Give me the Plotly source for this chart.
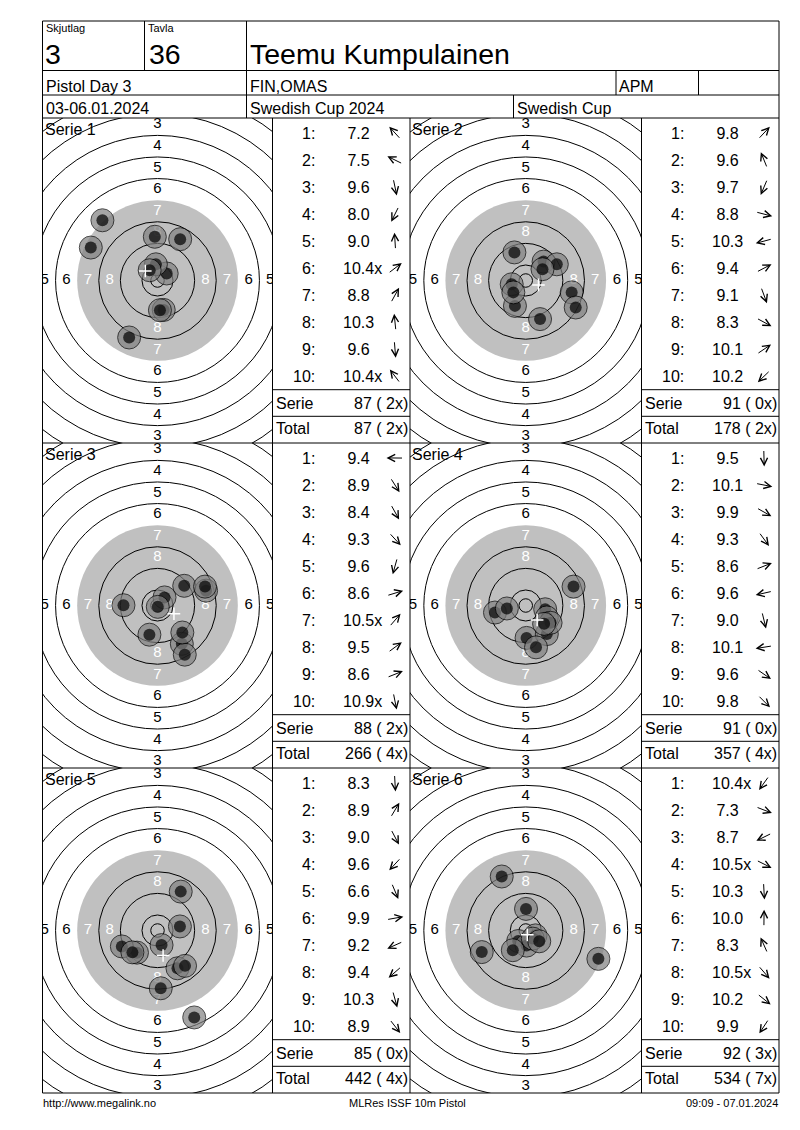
import math
import plotly.graph_objects as go

# ---------------- data ----------------
relay_label, relay_value = "Skjutlag", "3"
lane_label, lane_value = "Tavla", "36"
shooter_name = "Teemu Kumpulainen"
event_name = "Pistol Day 3"
club_name = "FIN,OMAS"
class_name = "APM"
event_dates = "03-06.01.2024"
competition_name = "Swedish Cup 2024"
cup_name = "Swedish Cup"
footer_left = "http://www.megalink.no"
footer_mid = "MLRes ISSF 10m Pistol"
footer_right = "09:09 - 07.01.2024"

series_labels = ["Serie 1", "Serie 2", "Serie 3", "Serie 4", "Serie 5", "Serie 6"]

scores_s1 = ["7.2", "7.5", "9.6", "8.0", "9.0", "10.4x", "8.8", "10.3", "9.6", "10.4x"]
shot_x_s1 = [-20.4, -24.7, 2.3, -10.5, -1.0, 3.4, 8.4, -0.6, 0.9, -2.9]
shot_y_s1 = [22.3, 12.2, -10.9, -21.1, 16.2, 2.6, 15.3, 6.0, -11.0, 3.8]

scores_s2 = ["9.8", "9.6", "9.7", "8.8", "10.3", "9.4", "9.1", "8.3", "10.1", "10.2"]
shot_x_s2 = [6.6, -4.2, -4.0, 17.0, -5.2, 11.5, 5.3, 18.5, 6.2, -4.6]
shot_y_s2 = [7.0, 10.4, -9.4, -4.4, -1.4, 6.0, -14.3, -10.0, 4.2, -4.4]

scores_s3 = ["9.4", "8.9", "8.4", "9.3", "9.6", "8.6", "10.5x", "9.5", "8.6", "10.9x"]
shot_x_s3 = [-12.6, 9.0, 10.1, 9.2, -3.0, 18.0, 2.6, 9.9, 17.6, 0.1]
shot_y_s3 = [0.1, -14.2, -18.2, -10.0, -10.8, 5.5, 3.0, 7.3, 7.0, -0.5]

scores_s4 = ["9.5", "10.1", "9.9", "9.3", "8.6", "9.6", "9.0", "10.1", "9.6", "9.8"]
shot_x_s4 = [0.3, 7.2, 7.8, 7.8, 17.7, -11.4, 3.8, -7.0, 9.2, 6.8]
shot_y_s4 = [-12.0, -1.4, -4.4, -10.6, 7.0, -2.6, -15.5, -1.1, -6.4, -6.8]

scores_s5 = ["8.3", "8.9", "9.0", "9.6", "6.6", "9.9", "9.2", "9.4", "10.3", "8.9"]
shot_x_s5 = [1.2, 8.6, 7.4, -7.6, 13.6, 8.3, -13.2, -9.3, 1.5, 10.2]
shot_y_s5 = [-21.4, 14.4, -14.0, -8.2, -32.2, 1.5, -5.9, -8.1, -5.4, -13.1]

scores_s6 = ["10.4x", "7.3", "8.7", "10.5x", "10.3", "10.0", "8.3", "10.5x", "10.2", "9.9"]
shot_x_s6 = [-2.8, 26.9, -16.3, 3.6, 0.3, 0.1, -8.9, 2.6, 5.0, -4.8]
shot_y_s6 = [-3.9, -10.5, -8.0, -1.8, -5.6, 8.0, 20.0, -3.0, -4.0, -7.3]

# ISSF 10m air pistol target geometry (mm)
ring_numbers = [1, 2, 3, 4, 5, 6, 7, 8, 9, 10]
ring_diameters_mm = [155.5, 139.5, 123.5, 107.5, 91.5, 75.5, 59.5, 43.5, 27.5, 11.5]
inner_ten_diameter_mm = 5.0
black_diameter_mm = 59.5

# ---------------- layout / style ----------------
PAGE_W, PAGE_H = 800, 1130
OFF = 8                       # page body margin of the browser
FW, FH = PAGE_W - OFF, PAGE_H - OFF
S = 2.7                       # pixels per mm on target
FONT = "Liberation Sans, Arial, sans-serif"
GRAY_AREA = "#c0c0c0"
SHOT_FILL = "#808080"
SHOT_OUTER_PX = 23
SHOT_DOT_PX = 12

LEFT, RIGHT, TOP = 42.5, 779.0, 21.0
HR1, HR2, PANEL_TOP = 70.5, 95.0, 118.0
ROW_H = 325.0
COLS = [(42.5, 272.5, 410.0), (410.0, 641.5, 779.0)]
ROW_STEP = 27.03
ARROW_LEN = 17

series_scores = [scores_s1, scores_s2, scores_s3, scores_s4, scores_s5, scores_s6]
series_x = [shot_x_s1, shot_x_s2, shot_x_s3, shot_x_s4, shot_x_s5, shot_x_s6]
series_y = [shot_y_s1, shot_y_s2, shot_y_s3, shot_y_s4, shot_y_s5, shot_y_s6]

fig = go.Figure()
shapes = []
annotations = []
axes = {
    "xaxis": dict(range=[OFF, PAGE_W], domain=[0, 1], visible=False, fixedrange=True),
    "yaxis": dict(range=[PAGE_H, OFF], domain=[0, 1], visible=False, fixedrange=True),
}


def line(x0, y0, x1, y1):
    shapes.append(dict(type="line", xref="x", yref="y", x0=x0, y0=y0, x1=x1, y1=y1,
                       line=dict(color="black", width=1), layer="above"))


def text(x, y, s, size, anchor="left", color="black", family=FONT):
    annotations.append(dict(xref="x", yref="y", x=x, y=y, text=s, showarrow=False,
                            xanchor=anchor, yanchor="middle", borderpad=0,
                            font=dict(family=family, size=size, color=color)))


# header frame
line(LEFT, TOP, RIGHT, TOP)
line(LEFT, TOP, LEFT, PANEL_TOP + 3 * ROW_H)
line(RIGHT, TOP, RIGHT, PANEL_TOP + 3 * ROW_H)
line(LEFT, HR1, RIGHT, HR1)
line(LEFT, HR2, RIGHT, HR2)
line(144.5, TOP, 144.5, HR1)
line(246.5, TOP, 246.5, PANEL_TOP)
line(616.0, HR1, 616.0, HR2)
line(698.5, HR1, 698.5, HR2)
line(513.5, HR2, 513.5, PANEL_TOP)
for r in range(4):
    line(LEFT, PANEL_TOP + r * ROW_H, RIGHT, PANEL_TOP + r * ROW_H)
for c in COLS:
    line(c[1], PANEL_TOP, c[1], PANEL_TOP + 3 * ROW_H)
line(410.0, PANEL_TOP, 410.0, PANEL_TOP + 3 * ROW_H)

text(44.5, 28, relay_label, 11)
text(43.5, 53.5, relay_value, 28.5)
text(147, 28, lane_label, 11)
text(147.5, 53.5, lane_value, 28.5)
text(249, 53.5, shooter_name, 28.5)
text(44.5, 86.5, event_name, 16)
text(249, 86.5, club_name, 16)
text(617.5, 86.5, class_name, 16)
text(44.5, 108.8, event_dates, 16)
text(249, 108.8, competition_name, 16)
text(515.5, 108.8, cup_name, 16)
text(42, 1103, footer_left, 11)
text(407, 1103, footer_mid, 11, anchor="center")
text(779, 1103, footer_right, 11, anchor="right")

running_total = 0
running_x = 0
for k in range(6):
    row, col = divmod(k, 2)
    tx0, sx0, sx1 = COLS[col]
    ty0 = PANEL_TOP + row * ROW_H
    ty1 = ty0 + ROW_H
    n = k + 2
    xa, ya = f"x{n}", f"y{n}"
    hx = (sx0 - tx0) / 2 / S
    hy = ROW_H / 2 / S
    axes[f"xaxis{n}"] = dict(domain=[(tx0 - OFF) / FW, (sx0 - OFF) / FW], range=[-hx, hx],
                             anchor=ya, visible=False, fixedrange=True)
    axes[f"yaxis{n}"] = dict(domain=[1 - (ty1 - OFF) / FH, 1 - (ty0 - OFF) / FH],
                             range=[-hy, hy], anchor=xa, visible=False, fixedrange=True)

    # aiming area (drawn grey on this printout)
    rb = black_diameter_mm / 2
    shapes.append(dict(type="circle", xref=xa, yref=ya, x0=-rb, x1=rb, y0=-rb, y1=rb,
                       fillcolor=GRAY_AREA, line=dict(width=0), layer="below"))
    for num, d in zip(ring_numbers, ring_diameters_mm):
        if d == black_diameter_mm:
            continue
        r = d / 2
        shapes.append(dict(type="circle", xref=xa, yref=ya, x0=-r, x1=r, y0=-r, y1=r,
                           line=dict(color="black", width=1), layer="below"))
    ri = inner_ten_diameter_mm / 2
    shapes.append(dict(type="circle", xref=xa, yref=ya, x0=-ri, x1=ri, y0=-ri, y1=ri,
                       line=dict(color="black", width=1), layer="below"))

    # ring numbers (only those whose centre lies on the visible sheet)
    lx, ly, lt, lc = [], [], [], []
    for i in range(8):
        mid = (ring_diameters_mm[i] + ring_diameters_mm[i + 1]) / 4
        colr = "white" if ring_diameters_mm[i] <= black_diameter_mm else "black"
        for px, py in [(0, mid), (0, -mid), (-mid, 0), (mid, 0)]:
            if abs(px) > hx or abs(py) > hy:
                continue
            lx.append(px); ly.append(py); lt.append(str(ring_numbers[i])); lc.append(colr)
    fig.add_trace(go.Scatter(x=lx, y=ly, text=lt, mode="text", xaxis=xa, yaxis=ya,
                             textfont=dict(family=FONT, size=15, color=lc),
                             hoverinfo="skip", showlegend=False))

    # shots
    xs, ys = series_x[k], series_y[k]
    px_, py_, sz, cl, lw = [], [], [], [], []
    for x, y in zip(xs, ys):
        px_ += [x, x]; py_ += [y, y]
        sz += [SHOT_OUTER_PX, SHOT_DOT_PX]
        cl += [SHOT_FILL, "black"]
        lw += [1, 0]
    fig.add_trace(go.Scatter(x=px_, y=py_, mode="markers", xaxis=xa, yaxis=ya,
                             marker=dict(size=sz, color=cl, line=dict(color="black", width=lw)),
                             hoverinfo="skip", showlegend=False))
    # mean point of impact
    mx = sum(xs) / len(xs)
    my = sum(ys) / len(ys)
    fig.add_trace(go.Scatter(x=[mx], y=[my], mode="markers", xaxis=xa, yaxis=ya,
                             marker=dict(symbol="cross-thin", size=9,
                                         line=dict(color="white", width=1.5)),
                             hoverinfo="skip", showlegend=False))

    text(tx0 + 1, ty0 + 11.7, series_labels[k], 16)

    # score list
    sc = series_scores[k]
    for i, s in enumerate(sc):
        yc = ty0 + 15 + ROW_STEP * i
        text(sx0 + 43, yc, f"{i + 1}:", 16, anchor="right")
        val = float(s.rstrip("x"))
        label = s if val >= 10 else "\u00a0" + s
        text(sx0 + 69, yc, label, 16)
        ang = math.atan2(series_y[k][i], series_x[k][i])
        ux, uy = math.cos(ang), math.sin(ang)
        cx = sx0 + 122.5
        annotations.append(dict(xref="x", yref="y",
                                x=cx + ARROW_LEN / 2 * ux, y=yc - ARROW_LEN / 2 * uy,
                                ax=-ARROW_LEN * ux, ay=ARROW_LEN * uy, text="",
                                showarrow=True, arrowhead=5, arrowsize=1.4, arrowwidth=1,
                                arrowcolor="black", standoff=0, startstandoff=0))
    serie_sum = sum(int(float(s.rstrip("x"))) for s in sc)
    serie_x = sum(1 for s in sc if s.endswith("x"))
    running_total += serie_sum
    running_x += serie_x
    line(sx0, ty0 + 271.7, sx1, ty0 + 271.7)
    line(sx0, ty0 + 298.3, sx1, ty0 + 298.3)
    text(sx0 + 2.5, ty0 + 285.8, "Serie", 16)
    text(sx1 - 1.5, ty0 + 285.8, f"{serie_sum} ({serie_x:>2}x)".replace(" ", "\u00a0"), 16, anchor="right")
    text(sx0 + 2.5, ty0 + 310.8, "Total", 16)
    text(sx1 - 1.5, ty0 + 310.8, f"{running_total} ({running_x:>2}x)".replace(" ", "\u00a0"), 16, anchor="right")

fig.update_layout(width=FW, height=FH, margin=dict(l=0, r=0, t=0, b=0),
                  paper_bgcolor="white", plot_bgcolor="white",
                  shapes=shapes, annotations=annotations, showlegend=False, **axes)
fig.write_html("out.html")
